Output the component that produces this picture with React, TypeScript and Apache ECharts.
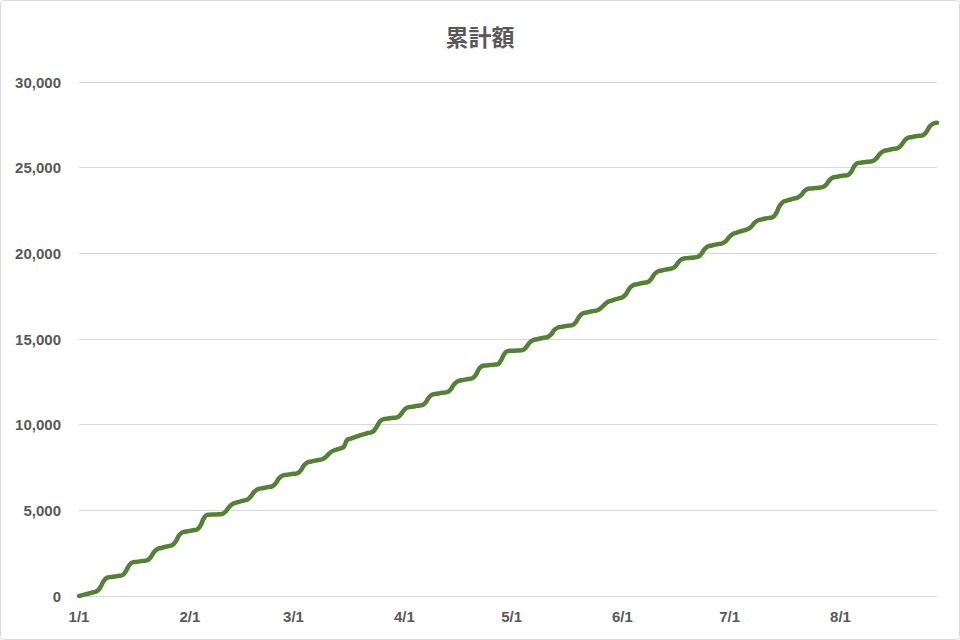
import React, { useEffect, useRef } from "react";
import * as echarts from "echarts";

const TITLE = "累計額";
const START_DATE = "2024-01-01";
const Y_MIN = 0;
const Y_MAX = 30000;
const Y_INTERVAL = 5000;

// Cumulative amount per day, starting 1/1 (one row per week)
const cumulative: number[] = [
  0, 50, 110, 160, 220, 280, 520,
  900, 1080, 1110, 1140, 1170, 1200, 1410,
  1780, 1960, 1990, 2020, 2050, 2080, 2250,
  2570, 2740, 2800, 2860, 2910, 2960, 3170,
  3540, 3720, 3760, 3800, 3840, 3880, 4120,
  4560, 4740, 4750, 4760, 4770, 4790, 4930,
  5200, 5380, 5450, 5510, 5570, 5620, 5800,
  6080, 6230, 6280, 6320, 6360, 6400, 6570,
  6880, 7030, 7070, 7100, 7130, 7160, 7330,
  7640, 7800, 7850, 7900, 7940, 7980, 8110,
  8320, 8470, 8540, 8610, 8700, 9100, 9180,
  9260, 9330, 9400, 9460, 9520, 9570, 9780,
  10140, 10310, 10340, 10370, 10400, 10430, 10590,
  10870, 11010, 11040, 11080, 11110, 11140, 11310,
  11620, 11770, 11800, 11840, 11870, 11900, 12070,
  12380, 12540, 12590, 12630, 12670, 12710, 12910,
  13280, 13440, 13460, 13480, 13500, 13520, 13740,
  14140, 14300, 14310, 14320, 14330, 14350, 14500,
  14780, 14930, 14980, 15030, 15070, 15110, 15260,
  15530, 15670, 15710, 15750, 15780, 15810, 15990,
  16330, 16500, 16550, 16600, 16640, 16680, 16810,
  17010, 17170, 17240, 17310, 17370, 17430, 17620,
  17960, 18140, 18190, 18240, 18280, 18320, 18490,
  18790, 18950, 19000, 19050, 19090, 19130, 19290,
  19560, 19690, 19720, 19740, 19760, 19790, 19950,
  20250, 20410, 20460, 20510, 20550, 20590, 20730,
  20970, 21140, 21210, 21280, 21340, 21400, 21550,
  21790, 21930, 21980, 22030, 22070, 22110, 22340,
  22780, 23010, 23080, 23140, 23200, 23250, 23400,
  23650, 23770, 23790, 23810, 23830, 23860, 24010,
  24290, 24430, 24470, 24510, 24540, 24570, 24760,
  25130, 25280, 25300, 25330, 25350, 25380, 25530,
  25800, 25960, 26010, 26060, 26100, 26140, 26310,
  26600, 26750, 26790, 26830, 26860, 26890, 27080,
  27420, 27580, 27620,
];

function buildDateCategories(start: string, count: number): string[] {
  const [y, m, d] = start.split("-").map(Number);
  const out: string[] = [];
  for (let i = 0; i < count; i++) {
    const dt = new Date(y, m - 1, d + i);
    out.push(`${dt.getMonth() + 1}/${dt.getDate()}`);
  }
  return out;
}

const dates = buildDateCategories(START_DATE, cumulative.length);

export default function App() {
  const ref = useRef<HTMLDivElement>(null);

  useEffect(() => {
    document.body.style.margin = "0";
    if (!ref.current) return;
    const chart = echarts.init(ref.current, undefined, { renderer: "svg" });
    const labelColor = "#595959";
    chart.setOption({
      animation: false,
      backgroundColor: "#ffffff",
      textStyle: { fontFamily: "'Liberation Sans', Arial, sans-serif" },
      title: {
        text: TITLE,
        left: "center",
        top: 19,
        textStyle: {
          fontFamily: "'Noto Sans CJK JP', sans-serif",
          fontSize: 23,
          fontWeight: "bold",
          color: labelColor,
        },
      },
      graphic: [
        {
          type: "rect",
          shape: { x: 0.5, y: 0.5, width: 959, height: 639, r: 4 },
          style: { fill: "none", stroke: "#d9d9d9", lineWidth: 1 },
          silent: true,
        },
      ],
      grid: { left: 79, right: 23, top: 82, bottom: 44, containLabel: false },
      xAxis: {
        type: "category",
        data: dates,
        boundaryGap: false,
        axisLine: { show: true, lineStyle: { color: "#d9d9d9", width: 1 } },
        axisTick: { show: false },
        axisLabel: {
          color: labelColor,
          fontSize: 15,
          fontWeight: "bold",
          margin: 13,
          interval: (_i: number, v: string) => v.endsWith("/1"),
        },
        splitLine: { show: false },
      },
      yAxis: {
        type: "value",
        min: Y_MIN,
        max: Y_MAX,
        interval: Y_INTERVAL,
        axisLine: { show: false },
        axisTick: { show: false },
        axisLabel: {
          color: labelColor,
          fontSize: 15,
          fontWeight: "bold",
          margin: 18,
          formatter: (v: number) => v.toLocaleString("en-US"),
        },
        splitLine: { lineStyle: { color: "#d9d9d9", width: 1 } },
      },
      series: [
        {
          type: "line",
          data: cumulative,
          smooth: 0.5,
          showSymbol: false,
          lineStyle: { color: "#548235", width: 4.5, cap: "round", join: "round" },
          itemStyle: { color: "#548235" },
        },
      ],
    });
    return () => chart.dispose();
  }, []);

  return (
    <div
      ref={ref}
      style={{ position: "absolute", left: 0, top: 0, width: 960, height: 640 }}
    />
  );
}
